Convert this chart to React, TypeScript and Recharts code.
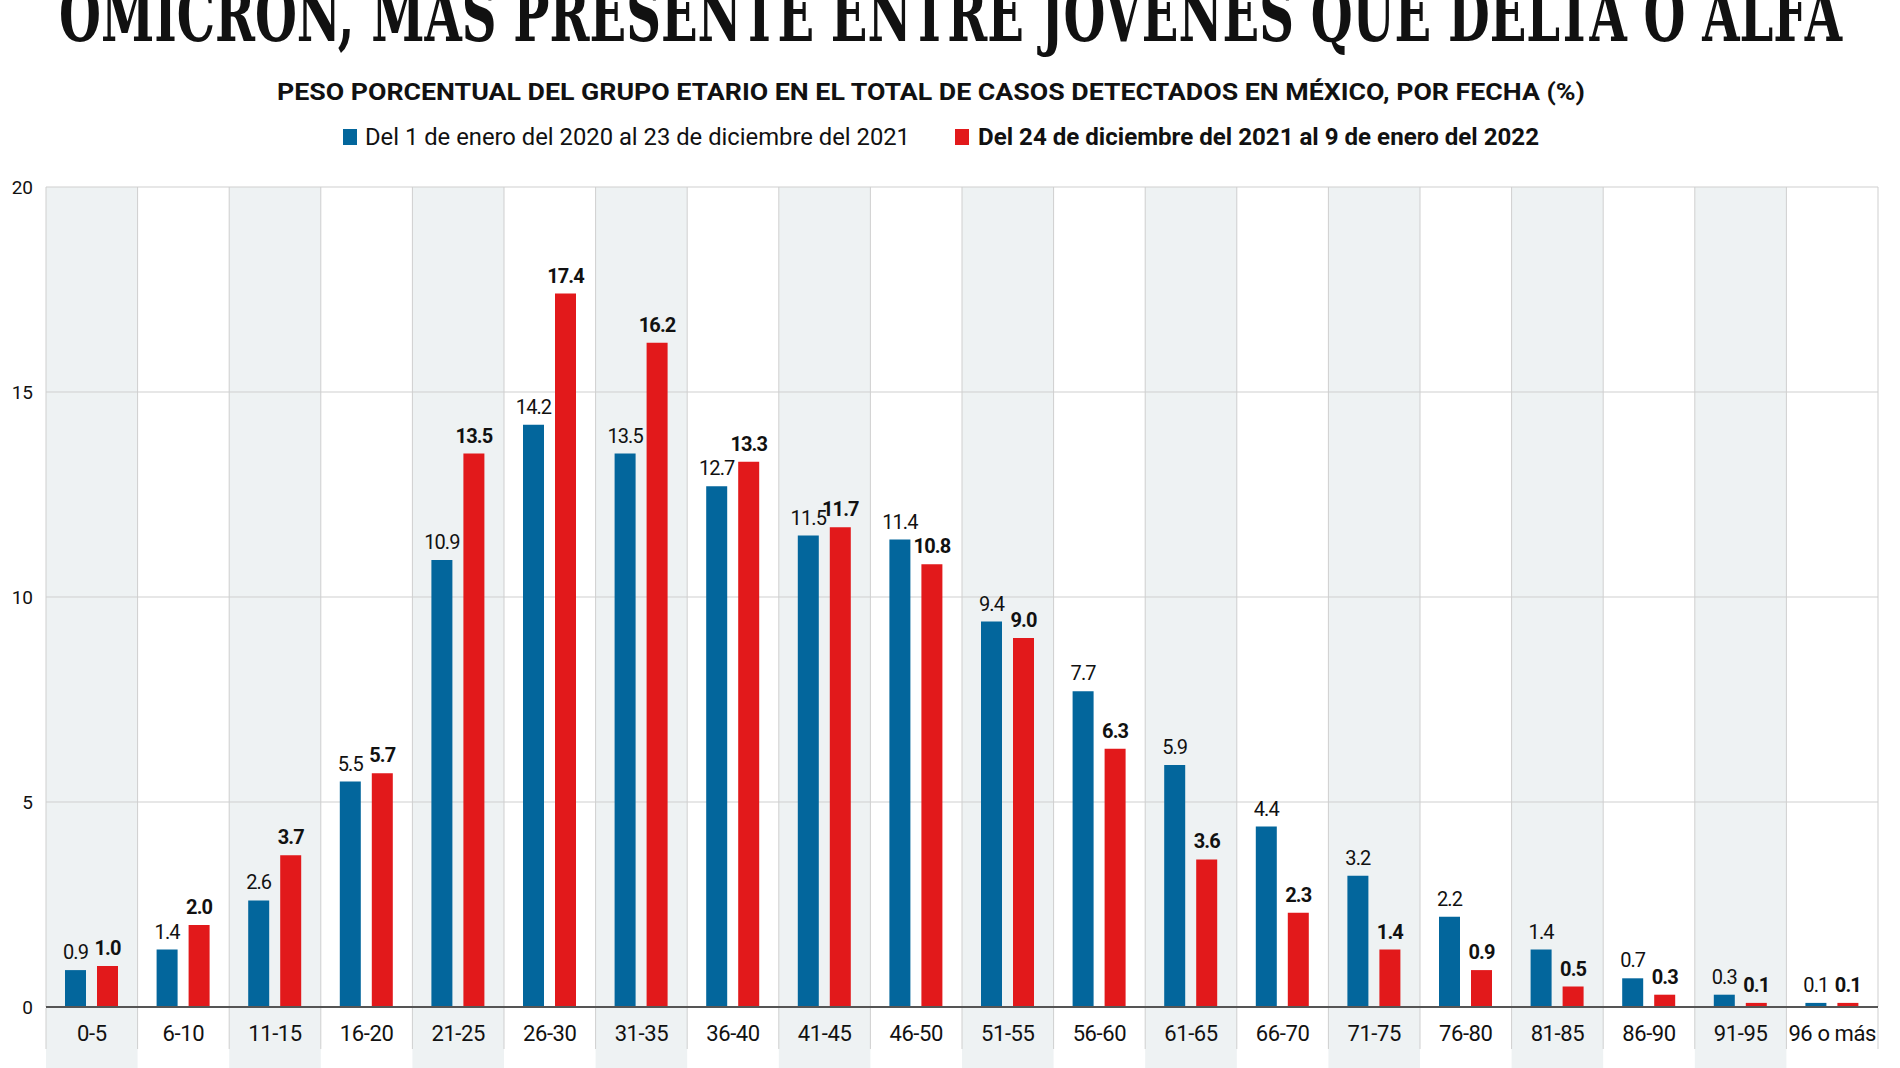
import React from "react";
import { BarChart, Bar, XAxis, YAxis, CartesianGrid, LabelList } from "recharts";

// grupos de edad y peso porcentual (%) de cada periodo
const categories = [
  "0-5", "6-10", "11-15", "16-20", "21-25", "26-30", "31-35", "36-40", "41-45", "46-50",
  "51-55", "56-60", "61-65", "66-70", "71-75", "76-80", "81-85", "86-90", "91-95", "96 o más",
];
const beforeOmicron = [0.9, 1.4, 2.6, 5.5, 10.9, 14.2, 13.5, 12.7, 11.5, 11.4, 9.4, 7.7, 5.9, 4.4, 3.2, 2.2, 1.4, 0.7, 0.3, 0.1];
const omicron = [1.0, 2.0, 3.7, 5.7, 13.5, 17.4, 16.2, 13.3, 11.7, 10.8, 9.0, 6.3, 3.6, 2.3, 1.4, 0.9, 0.5, 0.3, 0.1, 0.1];
const yTicks = [0, 5, 10, 15, 20];
const seriesNames = [
  "Del 1 de enero del 2020 al 23 de diciembre del 2021",
  "Del 24 de diciembre del 2021 al 9 de enero del 2022",
];
const title = "ÓMICRON, MÁS PRESENTE ENTRE JÓVENES QUE DELTA O ALFA";
const subtitle = "PESO PORCENTUAL DEL GRUPO ETARIO EN EL TOTAL DE CASOS DETECTADOS EN MÉXICO, POR FECHA (%)";

const data = categories.map((grupo, i) => ({ grupo, antes: beforeOmicron[i], omicron: omicron[i] }));

const W = 1900;
const H = 1068;
const TOP = 187;
const AXIS_W = 46;
const RIGHT = 22;
const X_AXIS_H = 61;
const BAND = (W - AXIS_W - RIGHT) / categories.length;

const BLUE = "#03669c";
const RED = "#e2191b";
const SHADE = "#eef2f3";
const LINE = "#cfcfcf";
const INK = "#111";
const FONT = "Roboto, 'Noto Sans', sans-serif";

const fmt = (v: any) => Number(v).toFixed(1);

function AgeTick(props: any) {
  const { x, y, payload } = props;
  const idx = categories.indexOf(payload.value);
  const left = x - BAND / 2;
  return (
    <g>
      {idx % 2 === 0 && <rect x={left} y={y + 1} width={BAND} height={H - y} fill={SHADE} />}
      <line x1={left} x2={left} y1={y + 1} y2={y + 42} stroke={LINE} />
      {idx === categories.length - 1 && (
        <line x1={left + BAND} x2={left + BAND} y1={y + 1} y2={y + 42} stroke={LINE} />
      )}
      <text x={x} y={y + 34} textAnchor="middle" fontSize={22} letterSpacing={-0.4} fill={INK} fontFamily={FONT}>
        {payload.value}
      </text>
    </g>
  );
}

export default function App() {
  return (
    <div style={{ position: "absolute", left: 0, top: 0, width: W, height: H, background: "#fff", overflow: "hidden" }}>
      <BarChart
        width={W}
        height={H}
        data={data}
        margin={{ top: TOP, right: RIGHT, bottom: 0, left: 0 }}
        barGap={11}
      >
        <CartesianGrid
          stroke={LINE}
          verticalFill={[SHADE, "#ffffff"]}
          verticalCoordinatesGenerator={({ offset }: any) =>
            Array.from({ length: categories.length + 1 }, (_, i) => offset.left + (i * offset.width) / categories.length)
          }
        />
        <XAxis
          dataKey="grupo"
          interval={0}
          height={X_AXIS_H}
          tickLine={false}
          tickSize={0}
          tickMargin={0}
          axisLine={{ stroke: "#555", strokeWidth: 2 }}
          tick={<AgeTick />}
        />
        <YAxis
          domain={[0, 20]}
          ticks={yTicks}
          interval={0}
          width={AXIS_W}
          tickLine={false}
          axisLine={false}
          tickSize={0}
          tickMargin={13}
          tick={{ fontSize: 19, fill: INK, fontFamily: FONT }}
        />
        <Bar dataKey="antes" name={seriesNames[0]} fill={BLUE} barSize={21} isAnimationActive={false}>
          <LabelList dataKey="antes" position="top" offset={11} formatter={fmt} fill={INK} fontSize={20} letterSpacing={-0.9} fontFamily={FONT} />
        </Bar>
        <Bar dataKey="omicron" name={seriesNames[1]} fill={RED} barSize={21} isAnimationActive={false}>
          <LabelList dataKey="omicron" position="top" offset={11} formatter={fmt} fill={INK} fontSize={20} letterSpacing={-0.9} fontWeight={700} fontFamily={FONT} />
        </Bar>
      </BarChart>

      <svg width={W} height={TOP} style={{ position: "absolute", left: 0, top: 0, pointerEvents: "none" }}>
        <text x={59} y={41} fontFamily="'DejaVu Serif', 'Liberation Serif', serif" fontWeight={700} fontSize={74} fill={INK} textLength={1783} lengthAdjust="spacingAndGlyphs">
          {title}
        </text>
        <text x={277} y={100} fontFamily={FONT} fontWeight={700} fontSize={24} fill={INK} textLength={1308} lengthAdjust="spacingAndGlyphs">
          {subtitle}
        </text>
        <rect x={343} y={129} width={14} height={16} fill={BLUE} />
        <text x={365} y={145} fontFamily={FONT} fontSize={23} fill={INK} textLength={545} lengthAdjust="spacingAndGlyphs">
          {seriesNames[0]}
        </text>
        <rect x={955} y={129} width={14} height={16} fill={RED} />
        <text x={978} y={145} fontFamily={FONT} fontWeight={700} fontSize={23} fill={INK} textLength={561} lengthAdjust="spacingAndGlyphs">
          {seriesNames[1]}
        </text>
      </svg>
    </div>
  );
}
